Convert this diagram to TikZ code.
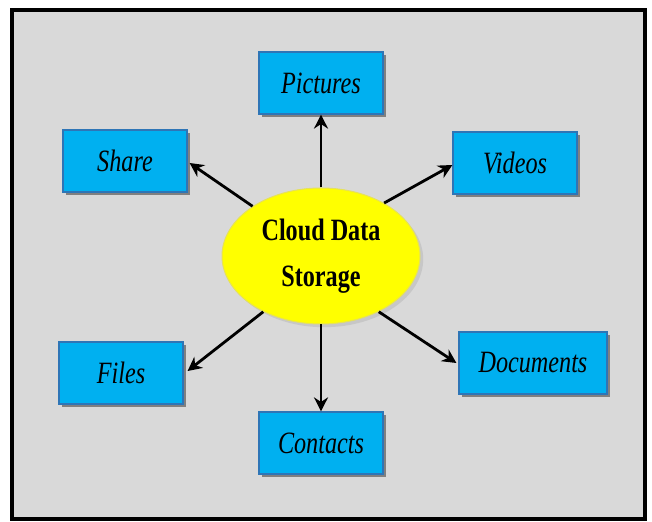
\documentclass[tikz,border=0pt]{standalone}
\usepackage{fontspec}
\setmainfont{Liberation Serif}[FakeStretch=0.78]
\usepackage{tikz}
\usetikzlibrary{
  shapes.geometric,
  arrows.meta,
  positioning, shadows
}
\usepackage{xcolor}
\definecolor{panelgray}{RGB}{217,217,217}
\definecolor{boxcyan}{RGB}{0,176,240}
\definecolor{boxedge}{RGB}{46,117,182}
\definecolor{hubyellow}{RGB}{255,255,0}
\definecolor{hubedge}{RGB}{230,225,90}
\tikzset{
  itembox/.style={rectangle,draw=boxedge,fill=boxcyan,line width=0.6pt,
    minimum width=62pt,minimum height=31pt,inner sep=0pt,
    font=\fontsize{15.5}{18}\selectfont\itshape,
    drop shadow={shadow xshift=1.6pt,shadow yshift=-1.6pt,fill=black!50,opacity=1}},
  hubnode/.style={ellipse,draw=hubedge,fill=hubyellow,line width=0.5pt,
    minimum width=99pt,minimum height=68pt,inner sep=0pt,align=center,
    font=\fontsize{15.5}{23}\selectfont\bfseries,
    drop shadow={shadow xshift=1.6pt,shadow yshift=-1.6pt,fill=black!22,opacity=1}},
  arr/.style={-{Stealth[length=7pt,width=7pt]},line width=1.4pt,color=black}
}
\begin{document}
\begin{tikzpicture}[x=0.5pt,y=-0.5pt]
  \useasboundingbox (0,0) rectangle (652,522);
  % panel
  \draw[draw=black,line width=1.6pt,fill=panelgray] (12,10) rectangle (645,519);

  \node[hubnode] (cds) at (321,256) {\raisebox{-4pt}{Cloud Data}\\\raisebox{-4pt}{Storage}};

  \node[itembox] (pic) at (321,83) {Pictures};
  \node[itembox] (shr) at (125,161) {Share};
  \node[itembox] (vid) at (515,163) {Videos};
  \node[itembox] (fil) at (121,373) {Files};
  \node[itembox] (con) at (321,443) {Contacts};
  \node[itembox,minimum width=74pt] (doc) at (533,363) {Documents};

  \draw[arr] (cds.north) -- (pic.south);
  \draw[arr] (cds.144) -- ([xshift=1pt,yshift=-1pt]shr.east);
  \draw[arr] (cds.40) -- ([yshift=-1pt]vid.west);
  \draw[arr] (cds.224) -- ([xshift=2pt,yshift=1pt]fil.east);
  \draw[arr] (cds.south) -- (con.north);
  \draw[arr] (cds.316) -- ([xshift=-1pt]doc.west);
\end{tikzpicture}
\end{document}
